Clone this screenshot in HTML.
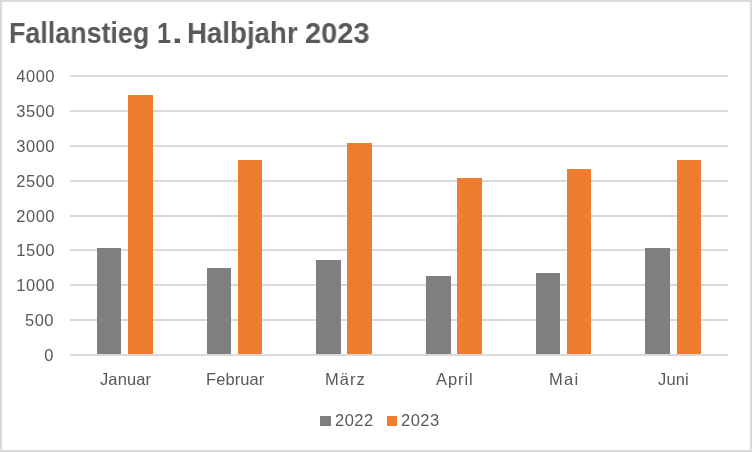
<!DOCTYPE html>
<html><head><meta charset="utf-8"><title>Fallanstieg 1. Halbjahr 2023</title>
<style>
html,body{margin:0;padding:0;background:#fff;}
body{width:752px;height:452px;overflow:hidden;position:relative;font-family:"Liberation Sans",sans-serif;color:#595959;}
#frame{position:absolute;left:0;top:0;width:748px;height:448px;border:2px solid #d9d9d9;background:#fff;}
.g{position:absolute;left:70px;width:658px;height:2px;background:#d9d9d9;}
.b{position:absolute;}
.gr{background:#7f7f7f;}
.or{background:#ed7d31;}
.t{position:absolute;white-space:nowrap;line-height:1;will-change:transform;}
.tw{top:18px;font-size:29.6px;font-weight:bold;color:#595959;transform-origin:0 0;}
.yl{font-size:16.5px;text-align:right;width:60px;left:-5px;letter-spacing:0.5px;}
.xl{font-size:16.5px;top:371px;}
.lg{font-size:16.5px;top:412px;letter-spacing:0.5px;}
</style></head><body>
<div id="frame"></div>

<div class="g" style="top:75.00px"></div>
<div class="g" style="top:110.00px"></div>
<div class="g" style="top:145.00px"></div>
<div class="g" style="top:180.00px"></div>
<div class="g" style="top:215.00px"></div>
<div class="g" style="top:249.00px"></div>
<div class="g" style="top:284.00px"></div>
<div class="g" style="top:319.00px"></div>
<div class="g" style="top:354.00px"></div>
<div class="b gr" style="left:97px;top:248px;width:24px;height:106px"></div>
<div class="b or" style="left:128px;top:95px;width:25px;height:259px"></div>
<div class="b gr" style="left:207px;top:268px;width:24px;height:86px"></div>
<div class="b or" style="left:238px;top:160px;width:24px;height:194px"></div>
<div class="b gr" style="left:316px;top:260px;width:25px;height:94px"></div>
<div class="b or" style="left:347px;top:143px;width:25px;height:211px"></div>
<div class="b gr" style="left:426px;top:276px;width:25px;height:78px"></div>
<div class="b or" style="left:457px;top:178px;width:25px;height:176px"></div>
<div class="b gr" style="left:536px;top:273px;width:24px;height:81px"></div>
<div class="b or" style="left:567px;top:169px;width:24px;height:185px"></div>
<div class="b gr" style="left:645px;top:248px;width:25px;height:106px"></div>
<div class="b or" style="left:677px;top:160px;width:24px;height:194px"></div>
<div class="t yl" style="top:68.00px;left:-5.4px">4000</div>
<div class="t yl" style="top:102.88px;left:-5.4px">3500</div>
<div class="t yl" style="top:137.75px;left:-5.4px">3000</div>
<div class="t yl" style="top:172.62px;left:-5.4px">2500</div>
<div class="t yl" style="top:207.50px;left:-5.4px">2000</div>
<div class="t yl" style="top:242.38px;left:-5.4px">1500</div>
<div class="t yl" style="top:277.25px;left:-5.4px">1000</div>
<div class="t yl" style="top:312.12px;left:-6.3px">500</div>
<div class="t yl" style="top:347.00px;left:-6.3px">0</div>
<div class="t xl" style="left:100.00px;letter-spacing:0.10px">Januar</div>
<div class="t xl" style="left:205.50px;letter-spacing:0.08px">Februar</div>
<div class="t xl" style="left:325.25px;letter-spacing:1.00px">März</div>
<div class="t xl" style="left:436.25px;letter-spacing:0.94px">April</div>
<div class="t xl" style="left:549.00px;letter-spacing:1.25px">Mai</div>
<div class="t xl" style="left:658.00px;letter-spacing:0.17px">Juni</div>
<div id="title"><span class="t tw" style="left:9.19px;transform:scaleX(0.907)">Fallanstieg</span><span class="t tw" style="left:156.95px;transform:scaleX(0.850)">1</span><span class="t tw" style="left:172.25px;transform:scaleX(1.300)">.</span><span class="t tw" style="left:187.13px;transform:scaleX(0.934)">Halbjahr</span><span class="t tw" style="left:304.52px;transform:scaleX(0.978)">2023</span></div>
<div class="b gr" style="left:320px;top:416px;width:11px;height:10px"></div>
<div class="t lg" style="left:335px">2022</div>
<div class="b or" style="left:387px;top:416px;width:10px;height:10px"></div>
<div class="t lg" style="left:401px">2023</div>
</body></html>
